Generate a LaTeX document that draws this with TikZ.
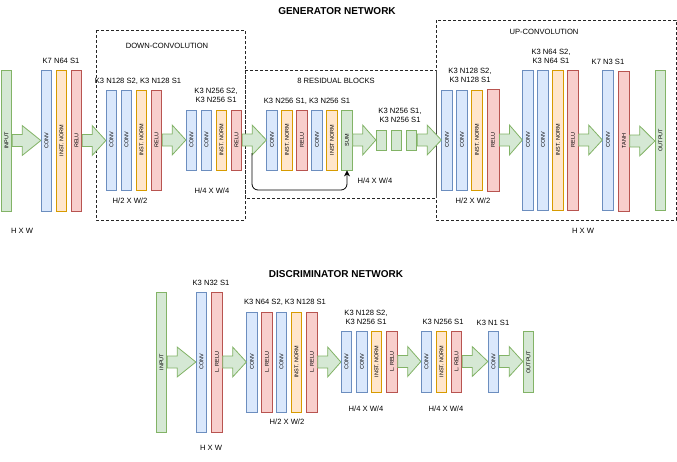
\documentclass[tikz,border=0pt]{standalone}
\usepackage{fontspec}
\setmainfont{Liberation Sans}
\usepackage{graphicx}
\usetikzlibrary{calc,arrows.meta}

\definecolor{convfill}{HTML}{DAE8FC}
\definecolor{convdraw}{HTML}{6C8EBF}
\definecolor{normfill}{HTML}{FFE6CC}
\definecolor{normdraw}{HTML}{D79B00}
\definecolor{relufill}{HTML}{F8CECC}
\definecolor{reludraw}{HTML}{B85450}
\definecolor{iofill}{HTML}{D5E8D4}
\definecolor{iodraw}{HTML}{82B366}

\newcommand{\vtext}[1]{\rotatebox{90}{#1}}
% block arrow between two layers
\newcommand{\fatarrow}[2]{%
  \draw[fat arrow] let \p1=(#1.east), \p2=(#2.west) in
    (\x1,\y1+6pt) -- (\x1+10pt,\y1+6pt) -- (\x1+10pt,\y1+15pt) -- (\x2,\y1)
    -- (\x1+10pt,\y1-15pt) -- (\x1+10pt,\y1-6pt) -- (\x1,\y1-6pt) -- cycle;}

\begin{document}
\begin{tikzpicture}[x=1pt,y=-1pt]
        \tikzset{layer/.style={draw,line width=0.8pt,minimum width=10.5pt,inner sep=0pt,font=\fontsize{5.5}{6}\selectfont},
                 conv layer/.style={layer,fill=convfill,draw=convdraw,minimum height=#1},
                 norm layer/.style={layer,fill=normfill,draw=normdraw,minimum height=#1},
                 relu layer/.style={layer,fill=relufill,draw=reludraw,minimum height=#1},
                 io layer/.style={layer,fill=iofill,draw=iodraw,minimum height=#1},
                 fat arrow/.style={fill=iofill,draw=iodraw,line width=0.8pt,line join=miter},
                 lbl/.style={font=\fontsize{7.6}{9}\selectfont,align=center,inner sep=0pt},
                 title/.style={font=\bfseries\fontsize{10}{12}\selectfont,inner sep=0pt},
                 stage/.style={draw=black!85,line width=0.8pt,dash pattern=on 3pt off 2pt},
                 skip/.style={draw=black,line width=0.8pt,rounded corners=6pt,-{Stealth[length=6pt,width=6pt]}}}

        \useasboundingbox (0,0) rectangle (677,461);

        % generator
        \node[title] at (337,11) {GENERATOR NETWORK};

        \draw[stage] (96,30) rectangle (245,220);
        \draw[stage] (245,70) rectangle (436,198);
        \draw[stage] (436,20) rectangle (676,220);
        \draw[black!70,line width=0.8pt] (436,70) -- (436,198);
        \node[lbl] at (167,46) {DOWN-CONVOLUTION};
        \node[lbl] at (336,81) {8 RESIDUAL BLOCKS};
        \node[lbl] at (544,32) {UP-CONVOLUTION};

        \node[io layer=141pt] (gin) at (6.5,140.5) {\vtext{INPUT}};
        \node[conv layer=141pt] (g1conv) at (46.5,140.5) {\vtext{CONV}};
        \node[norm layer=141pt] (g1norm) at (61.5,140.5) {\vtext{INST. NORM}};
        \node[relu layer=141pt] (g1relu) at (76.5,140.5) {\vtext{RELU}};
        \node[lbl] at (61,61) {K7 N64 S1};
        \node[lbl] at (22,231) {H X W};

        \node[conv layer=100pt] (d1conv) at (111.5,140) {\vtext{CONV}};
        \node[conv layer=100pt] (d2conv) at (126.5,140) {\vtext{CONV}};
        \node[norm layer=100pt] (d1norm) at (141.5,140) {\vtext{INST. NORM}};
        \node[relu layer=100pt] (d1relu) at (156.5,140) {\vtext{RELU}};
        \node[lbl] at (138,81) {K3 N128 S2, K3 N128 S1};
        \node[lbl] at (130,201) {H/2 X W/2};

        \node[conv layer=60pt] (d3conv) at (191.5,140) {\vtext{CONV}};
        \node[conv layer=60pt] (d4conv) at (206.5,140) {\vtext{CONV}};
        \node[norm layer=60pt] (d2norm) at (221.5,140) {\vtext{INST. NORM}};
        \node[relu layer=60pt] (d2relu) at (236.5,140) {\vtext{RELU}};
        \node[lbl] at (216,95.5) {K3 N256 S2,\\K3 N256 S1};
        \node[lbl] at (212,191) {H/4 X W/4};

        \node[conv layer=60pt] (r1conv) at (272,140) {\vtext{CONV}};
        \node[norm layer=60pt] (r1norm) at (287,140) {\vtext{INST. NORM}};
        \node[relu layer=60pt] (r1relu) at (302,140) {\vtext{RELU}};
        \node[conv layer=60pt] (r2conv) at (317,140) {\vtext{CONV}};
        \node[norm layer=60pt] (r2norm) at (332,140) {\vtext{INST NORM}};
        \node[io layer=60pt] (rsum) at (347,140) {\vtext{SUM}};
        \node[lbl] at (307,101) {K3 N256 S1, K3 N256 S1};
        \node[lbl] at (375,181) {H/4 X W/4};

        \node[io layer=20pt] (rblk1) at (381.5,140) {};
        \node[io layer=20pt] (rblk2) at (396.5,140) {};
        \node[io layer=20pt] (rblk3) at (411.5,140) {};
        \node[lbl] at (400,115.5) {K3 N256 S1,\\K3 N256 S1};

        \node[conv layer=100pt] (u1conv) at (447,140) {\vtext{CONV}};
        \node[conv layer=100pt] (u2conv) at (462,140) {\vtext{CONV}};
        \node[norm layer=100pt] (u1norm) at (477,140) {\vtext{INST. NORM}};
        \node[relu layer=102pt,minimum width=12pt] (u1relu) at (493,140) {\vtext{RELU}};
        \node[lbl] at (470,75.5) {K3 N128 S2,\\K3 N128 S1};
        \node[lbl] at (473,201) {H/2 X W/2};

        \node[conv layer=140pt] (u3conv) at (528,140) {\vtext{CONV}};
        \node[conv layer=140pt] (u4conv) at (543,140) {\vtext{CONV}};
        \node[norm layer=140pt] (u2norm) at (558,140) {\vtext{INST. NORM}};
        \node[relu layer=140pt] (u2relu) at (573,140) {\vtext{RELU}};
        \node[lbl] at (551,56.5) {K3 N64 S2,\\K3 N64 S1};

        \node[conv layer=140pt] (oconv) at (608,140) {\vtext{CONV}};
        \node[relu layer=140pt] (otanh) at (624,141) {\vtext{TANH}};
        \node[io layer=140pt] (gout) at (660.5,140) {\vtext{OUTPUT}};
        \node[lbl] at (608,62) {K7 N3 S1};
        \node[lbl] at (583,231) {H X W};

        \fatarrow{gin}{g1conv}
        \fatarrow{g1relu}{d1conv}
        \fatarrow{d1relu}{d3conv}
        \fatarrow{d2relu}{r1conv}
        \fatarrow{rsum}{rblk1}
        \fatarrow{rblk3}{u1conv}
        \fatarrow{u1relu}{u3conv}
        \fatarrow{u2relu}{oconv}
        \fatarrow{otanh}{gout}

        \coordinate (skipstart) at (252,153);
        \draw[skip] (skipstart) -- ++(0,37) -| (rsum.south);

        % discriminator
        \node[title] at (336,274) {DISCRIMINATOR NETWORK};

        \node[io layer=140pt] (din) at (161.5,362) {\vtext{INPUT}};
        \node[conv layer=140pt] (c1conv) at (201.5,362) {\vtext{CONV}};
        \node[relu layer=140pt] (c1relu) at (217,362) {\vtext{L. RELU}};
        \node[lbl] at (211,283) {K3 N32 S1};
        \node[lbl] at (211,448) {H X W};

        \node[conv layer=100pt] (c2conv) at (252,362) {\vtext{CONV}};
        \node[relu layer=100pt] (c2relu) at (267,362) {\vtext{L. RELU}};
        \node[conv layer=100pt] (c3conv) at (281.5,362) {\vtext{CONV}};
        \node[norm layer=100pt] (c1norm) at (296.5,362) {\vtext{INST. NORM}};
        \node[relu layer=100pt] (c3relu) at (312,362) {\vtext{L. RELU}};
        \node[lbl] at (285,302) {K3 N64 S2, K3 N128 S1};
        \node[lbl] at (287,422) {H/2 X W/2};

        \node[conv layer=61pt] (c4conv) at (346.5,361.5) {\vtext{CONV}};
        \node[conv layer=61pt] (c5conv) at (362,361.5) {\vtext{CONV}};
        \node[norm layer=61pt] (c2norm) at (376.5,361.5) {\vtext{INST. NORM}};
        \node[relu layer=61pt] (c4relu) at (392,361.5) {\vtext{L. RELU}};
        \node[lbl] at (366,317.5) {K3 N128 S2,\\K3 N256 S1};
        \node[lbl] at (366,409) {H/4 X W/4};

        \node[conv layer=61pt] (c6conv) at (426.5,361.5) {\vtext{CONV}};
        \node[norm layer=61pt] (c3norm) at (441.5,361.5) {\vtext{INST. NORM}};
        \node[relu layer=61pt] (c5relu) at (456.5,361.5) {\vtext{L. RELU}};
        \node[lbl] at (443,322) {K3 N256 S1};
        \node[lbl] at (446,409) {H/4 X W/4};

        \node[conv layer=61pt] (c7conv) at (493.5,361.5) {\vtext{CONV}};
        \node[io layer=61pt] (dout) at (528.5,362) {\vtext{OUTPUT}};
        \node[lbl] at (493,323) {K3 N1 S1};

        \fatarrow{din}{c1conv}
        \fatarrow{c1relu}{c2conv}
        \fatarrow{c3relu}{c4conv}
        \fatarrow{c4relu}{c6conv}
        \fatarrow{c5relu}{c7conv}
        \fatarrow{c7conv}{dout}
\end{tikzpicture}
\end{document}
